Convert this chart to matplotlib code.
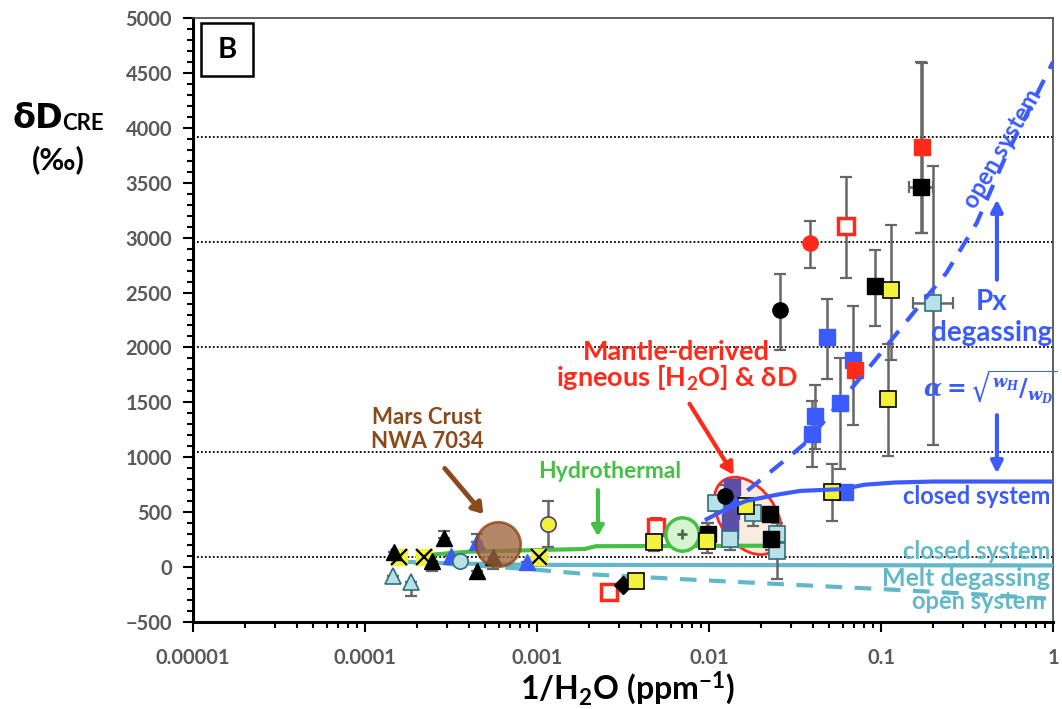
import numpy as np
import matplotlib
matplotlib.use('Agg')
import matplotlib.pyplot as plt
from matplotlib.patches import Ellipse, Rectangle
from matplotlib import transforms

plt.rcParams['font.family'] = ['Lato', 'DejaVu Sans']
plt.rcParams['font.weight'] = 'bold'
plt.rcParams['mathtext.fontset'] = 'custom'
plt.rcParams['mathtext.rm'] = 'Lato:bold'
plt.rcParams['mathtext.bf'] = 'Lato:bold'
plt.rcParams['mathtext.it'] = 'Lato:bold:italic'

# ---- data (1/H2O in ppm^-1, dD in permil) ----
grid_levels = [94, 1050, 2006, 2962, 3918]

black_tri_x = [1.47e-4, 2.44e-4, 2.88e-4, 4.5e-4, 5.57e-4]
black_tri_y = [134, 57, 261, -33, 88]
black_tri_lo = [0, 93, 0, 0, 106]
black_tri_hi = [0, 0, 70, 0, 0]

yellow_x_x = [1.58e-4, 2.21e-4, 1.03e-3]
yellow_x_y = [90, 90, 88]

lb_tri_x = [1.46e-4, 1.85e-4]
lb_tri_y = [-79, -133]
lb_tri_lo = [0, 127]

blue_tri_x = [3.16e-4, 4.5e-4, 8.7e-4]
blue_tri_y = [103, 224, 43]
blue_tri_hi = [0, 76, 0]

lb_circ_x = [3.56e-4]
lb_circ_y = [57]

crust_x = [5.93e-4]
crust_y = [209]

yel_circ_x = [1.16e-3]
yel_circ_y = [391]
yel_circ_err = [210]

red_open_x = [2.62e-3, 4.9e-3, 0.063]
red_open_y = [-230, 361, 3103]
red_open_lo = [0, 0, 467]
red_open_hi = [0, 84, 445]

diamond_x = [3.18e-3]
diamond_y = [-164]

yel_sq_x = [3.77e-3, 4.8e-3, 9.7e-3, 1.64e-2, 0.0519, 0.110, 0.115]
yel_sq_y = [-124, 224, 239, 557, 680, 1533, 2527]
yel_sq_lo = [0, 76, 112, 0, 262, 524, 642]
yel_sq_hi = [0, 0, 161, 0, 255, 501, 585]

green_x = [6.93e-3]
green_y = [300]

blk_sq_x = [9.9e-3, 2.26e-2, 2.3e-2, 0.0923, 0.170]
blk_sq_y = [300, 482, 255, 2557, 3457]
blk_sq_lo = [0, 0, 100, 363, 412]
blk_sq_hi = [100, 0, 0, 334, 1140]
blk_sq_xlo = [0, 0, 0, 0, 0.025]
blk_sq_xhi = [0, 0, 0, 0, 0.030]

lb_sq_x = [1.1e-2, 1.32e-2, 1.81e-2, 2.5e-2, 2.5e-2, 0.2]
lb_sq_y = [588, 255, 497, 300, 148, 2406]
lb_sq_lo = [80, 100, 122, 0, 260, 1294]
lb_sq_hi = [0, 0, 0, 100, 0, 1249]
lb_sq_xlo = [0, 0, 0, 0, 0, 0.047]
lb_sq_xhi = [0, 0, 0, 0, 0, 0.061]

blk_circ_x = [1.24e-2, 0.0259]
blk_circ_y = [648, 2345]
blk_circ_lo = [0, 372]
blk_circ_hi = [100, 328]

purple_x = [1.36e-2, 1.35e-2, 1.34e-2, 1.33e-2, 1.33e-2]
purple_y = [730, 620, 510, 410, 330]

blue_sq_x = [0.0395, 0.0413, 0.0483, 0.0578, 0.0616, 0.069]
blue_sq_y = [1209, 1376, 2097, 1491, 680, 1885]
blue_sq_lo = [300, 300, 382, 600, 0, 594]
blue_sq_hi = [300, 281, 348, 409, 0, 491]

red_sq_x = [0.0705, 0.174]
red_sq_y = [1794, 3824]
red_sq_lo = [0, 780]
red_sq_hi = [0, 770]

red_circ_x = [0.0386]
red_circ_y = [2952]
red_circ_lo = [228]
red_circ_hi = [196]

# model curves
px_closed_x = [0.0097, 0.013, 0.0165, 0.025, 0.034, 0.06, 0.08, 0.12, 0.2, 1.0]
px_closed_y = [436, 540, 603, 660, 694, 710, 750, 770, 779, 779]
px_open_x = [0.0125, 0.0162, 0.0296, 0.0366, 0.0865, 0.16, 0.24, 0.36, 0.53, 1.0]
px_open_y = [520, 679, 1012, 1133, 1830, 2345, 2679, 3133, 3739, 4600]
melt_closed_x = [1.5e-4, 3e-4, 1e-3, 1.0]
melt_closed_y = [50, 35, 20, 15]
melt_open_x = [3e-4, 6e-4, 1e-3, 2e-3, 7e-3, 0.03, 0.1, 0.3, 1.0]
melt_open_y = [30, 0, -25, -65, -110, -160, -200, -240, -290]
hydro_x = [2.3e-4, 4e-4, 1e-3, 1.9e-3, 2.2e-3, 0.025]
hydro_y = [110, 140, 155, 165, 190, 195]

BLUE = '#3b5bff'
TEAL = '#62b8c8'
GREEN = '#44c044'
RED = '#ff2a1a'
BROWN = '#8a4a1c'
ERR = '#666666'
YEL = '#f2f23a'
LB = '#b7e1e6'
LBE = '#2f6f78'

fig = plt.figure(figsize=(10.62, 7.09), dpi=100)
ax = fig.add_axes([193 / 1062, 1 - 622 / 709, 860 / 1062, 604 / 709])
ax.set_xscale('log')
ax.set_xlim(1e-5, 1)
ax.set_ylim(-500, 5000)

for g in grid_levels:
    ax.axhline(g, color='black', ls=(0, (1, 1.2)), lw=1.3, zorder=1)

# ellipse around mantle-derived cluster
tr = fig.dpi_scale_trans + transforms.ScaledTranslation(1.68e-2, 466, ax.transData)
ax.add_patch(Ellipse((0, 0), 0.56, 0.86, angle=35, transform=tr,
                     facecolor='#f9ebe0', edgecolor=RED, lw=2, zorder=2))

# curves
ax.plot(hydro_x, hydro_y, color=GREEN, lw=3, zorder=3)
ax.plot(melt_closed_x, melt_closed_y, color=TEAL, lw=3, zorder=3)
ax.plot(melt_open_x, melt_open_y, color=TEAL, lw=3, ls=(0, (4, 3)), zorder=3)
ax.plot(px_closed_x, px_closed_y, color=BLUE, lw=3, zorder=6)
ax.plot(px_open_x, px_open_y, color=BLUE, lw=3, ls=(0, (4, 3)), zorder=6)


def errs(x, y, lo, hi, xlo=None, xhi=None):
    xe = None if xlo is None else [xlo, xhi]
    ax.errorbar(x, y, yerr=[lo, hi], xerr=xe, fmt='none', ecolor=ERR,
                elinewidth=1.8, capsize=4, capthick=1.6, zorder=4)


errs(black_tri_x, black_tri_y, black_tri_lo, black_tri_hi)
errs(lb_tri_x, lb_tri_y, lb_tri_lo, [0, 0])
errs(blue_tri_x, blue_tri_y, [0, 0, 0], blue_tri_hi)
errs(yel_circ_x, yel_circ_y, yel_circ_err, yel_circ_err)
errs(red_open_x, red_open_y, red_open_lo, red_open_hi)
errs(yel_sq_x, yel_sq_y, yel_sq_lo, yel_sq_hi)
errs(blk_sq_x, blk_sq_y, blk_sq_lo, blk_sq_hi, blk_sq_xlo, blk_sq_xhi)
errs(lb_sq_x, lb_sq_y, lb_sq_lo, lb_sq_hi, lb_sq_xlo, lb_sq_xhi)
errs(blk_circ_x, blk_circ_y, blk_circ_lo, blk_circ_hi)
errs(blue_sq_x, blue_sq_y, blue_sq_lo, blue_sq_hi)
errs(red_sq_x, red_sq_y, red_sq_lo, red_sq_hi)
errs(red_circ_x, red_circ_y, red_circ_lo, red_circ_hi)

kw = dict(ls='none', zorder=5)
ax.plot(lb_tri_x, lb_tri_y, marker='^', ms=12, mfc=LB, mec=LBE, mew=1.2, **kw)
ax.plot(yellow_x_x, yellow_x_y, marker='s', ms=11, mfc=YEL, mec=YEL, **kw)
ax.plot(yellow_x_x, yellow_x_y, marker='x', ms=11, mec='black', mew=1.6, **kw)
ax.plot(blue_tri_x, blue_tri_y, marker='^', ms=12, mfc=BLUE, mec=BLUE, **kw)
ax.plot(lb_circ_x, lb_circ_y, marker='o', ms=11, mfc=LB, mec=LBE, mew=1.2, **kw)
ax.plot(black_tri_x, black_tri_y, marker='^', ms=12, mfc='black', mec='black', **kw)
ax.plot(crust_x, crust_y, marker='o', ms=32, mfc='#a0663f', mec='#8b4513',
        mew=2, alpha=0.78, ls='none', zorder=6)
ax.plot(yel_circ_x, yel_circ_y, marker='o', ms=11, mfc=YEL, mec='#4a3f7a', mew=1.2, **kw)
ax.plot(red_open_x, red_open_y, marker='s', ms=11, mfc='white', mec=RED, mew=2.5, **kw)
ax.plot(diamond_x, diamond_y, marker='D', ms=9, mfc='black', mec='black', **kw)
ax.plot(green_x, green_y, marker='o', ms=24, mfc='#d5f5d0', mec=GREEN, mew=2.5, **kw)
ax.plot(green_x, green_y, marker='+', ms=7, mec='#4a6a4a', mew=2, **kw)
ax.plot(purple_x, purple_y, marker='s', ms=11, mfc='#5d4fa8', mec='#5d4fa8', **kw)
ax.plot(lb_sq_x, lb_sq_y, marker='s', ms=11, mfc=LB, mec=LBE, mew=1.2, **kw)
ax.plot(blk_sq_x, blk_sq_y, marker='s', ms=11, mfc='black', mec='black', **kw)
ax.plot(blk_circ_x, blk_circ_y, marker='o', ms=11, mfc='black', mec='black', **kw)
ax.plot(blue_sq_x, blue_sq_y, marker='s', ms=11, mfc=BLUE, mec=BLUE, **kw)
ax.plot(yel_sq_x, yel_sq_y, marker='s', ms=11, mfc=YEL, mec='black', mew=1.2, **kw)
ax.plot(red_sq_x, red_sq_y, marker='s', ms=11, mfc=RED, mec=RED, **kw)
ax.plot(red_circ_x, red_circ_y, marker='o', ms=11, mfc=RED, mec=RED, **kw)

# annotations
ax.text(2.29e-4, 1255, 'Mars Crust\nNWA 7034', color=BROWN, fontsize=16,
        ha='center', va='center', linespacing=1.2, zorder=7)
ax.annotate('', xy=(4.99e-4, 464), xytext=(2.84e-4, 918),
            arrowprops=dict(arrowstyle='-|>,head_width=0.4,head_length=0.6',
                            color=BROWN, lw=3.5), zorder=7)
ax.text(2.65e-3, 873, 'Hydrothermal', color=GREEN, fontsize=16.5,
        ha='center', va='center', zorder=7)
ax.annotate('', xy=(2.26e-3, 255), xytext=(2.26e-3, 727),
            arrowprops=dict(arrowstyle='-|>,head_width=0.35,head_length=0.6',
                            color=GREEN, lw=3), zorder=7)
ax.text(6.5e-3, 1827, 'Mantle-derived\nigneous [H$_\\mathbf{2}$O] & δD', color=RED,
        fontsize=19.5, ha='center', va='center', linespacing=1.0, zorder=7)
ax.annotate('', xy=(1.42e-2, 818), xytext=(7.55e-3, 1509),
            arrowprops=dict(arrowstyle='-|>,head_width=0.4,head_length=0.7',
                            color=RED, lw=3), zorder=7)
ax.text(0.44, 2273, 'Px\ndegassing', color=BLUE, fontsize=20, ha='center',
        va='center', linespacing=1.25, zorder=7)
ax.annotate('', xy=(0.472, 3373), xytext=(0.472, 2591),
            arrowprops=dict(arrowstyle='-|>,head_width=0.35,head_length=0.7',
                            color=BLUE, lw=3), zorder=7)
ax.annotate('', xy=(0.472, 827), xytext=(0.472, 1409),
            arrowprops=dict(arrowstyle='-|>,head_width=0.35,head_length=0.7',
                            color=BLUE, lw=3), zorder=7)
ax.text(0.43, 1636, r'$\alpha=\sqrt{^{w_H}/_{w_D}}$', color=BLUE, fontsize=17,
        ha='center', va='center', math_fontfamily='dejavuserif', zorder=7)
ax.text(0.51, 3809, 'open system', color=BLUE, fontsize=17, rotation=60,
        ha='center', va='center', zorder=7)
ax.text(0.36, 645, 'closed system', color=BLUE, fontsize=17,
        ha='center', va='center', zorder=7)
ax.text(0.36, 145, 'closed system', color=TEAL, fontsize=17,
        ha='center', va='center', zorder=7)
ax.text(0.31, -100, 'Melt degassing', color=TEAL, fontsize=18,
        ha='center', va='center', zorder=7)
ax.text(0.37, -309, 'open system', color=TEAL, fontsize=17,
        ha='center', va='center', zorder=7)

# panel label
ax.add_patch(Rectangle((0.0093, 0.904), 0.0605, 0.087, transform=ax.transAxes,
                       facecolor='white', edgecolor='black', lw=1.8, zorder=8))
ax.text(0.0395, 0.9475, 'B', transform=ax.transAxes, fontsize=21,
        ha='center', va='center', color='black', zorder=9)

# axes styling
ax.set_xticks([1e-5, 1e-4, 1e-3, 1e-2, 1e-1, 1],
              ['0.00001', '0.0001', '0.001', '0.01', '0.1', '1'])
ax.set_xticks([m * 10.0 ** e for e in range(-5, 0) for m in range(2, 10)], minor=True)
ax.set_yticks(np.arange(-500, 5001, 500))
ax.set_yticks(np.arange(-500, 5001, 100), minor=True)
ax.tick_params(axis='both', which='both', direction='out', colors='black',
               labelcolor='#595959', labelsize=14.5, width=1.5)
ax.tick_params(axis='both', which='major', length=7)
ax.tick_params(axis='both', which='minor', length=4)
ax.tick_params(axis='x', pad=12)
ax.tick_params(axis='y', pad=8)
for s in ['left', 'bottom']:
    ax.spines[s].set_linewidth(2.2)
for s in ['top', 'right']:
    ax.spines[s].set_linewidth(1.2)
    ax.spines[s].set_color('#444444')

fig.text(628 / 1062, 1 - 688 / 709, r'$\mathbf{1/H_2O\ (ppm^{-1})}$', fontsize=23,
         ha='center', va='center')

fig.text(12 / 1062, 1 - 118 / 709, 'δD', fontsize=24, ha='left', va='center',
         family=['DejaVu Sans'], fontweight='bold')
fig.text(62 / 1062, 1 - 124 / 709, 'CRE', fontsize=16, ha='left', va='center')
fig.text(58 / 1062, 1 - 160 / 709, '(‰)', fontsize=22, ha='center', va='center')

fig.savefig('out.png', dpi=100)
